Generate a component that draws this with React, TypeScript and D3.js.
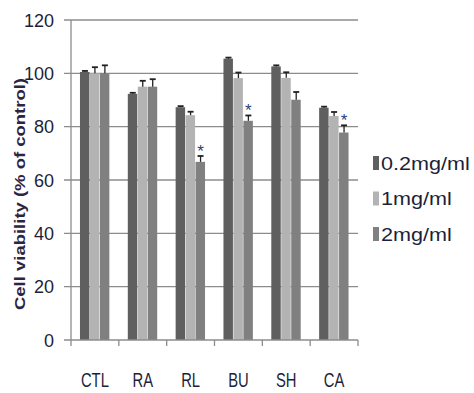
import { useEffect, useRef } from 'react';
import * as d3 from 'd3';

// 처리군 / 농도별 세포 생존율
const categories = ['CTL', 'RA', 'RL', 'BU', 'SH', 'CA'];
const seriesNames = ['0.2mg/ml', '1mg/ml', '2mg/ml'];
const dose02 = [100.5, 92.3, 87.3, 105.5, 102.6, 87.1];
const dose1 = [100.0, 95.0, 84.3, 98.2, 98.3, 84.0];
const dose2 = [100.0, 95.0, 66.8, 82.2, 90.1, 77.8];
const err02 = [0.4, 0.4, 0.4, 0.4, 0.4, 0.4];
const err1 = [2.3, 2.2, 1.3, 2.1, 2.1, 1.5];
const err2 = [3.0, 2.8, 2.2, 2.0, 2.9, 2.7];
const starred = ['RL', 'BU', 'CA'];
const yTicks = [0, 20, 40, 60, 80, 100, 120];

const colors = ['#5f5f5f', '#b3b3b3', '#808080'];
const textColor = '#1d1f3a';

export default function App() {
  const svgRef = useRef<SVGSVGElement>(null);

  useEffect(() => {
    if (!svgRef.current) return;
    const svg = d3.select(svgRef.current);
    svg.selectAll('*').remove();

    const values = [dose02, dose1, dose2];
    const errors = [err02, err1, err2];

    const x = d3.scaleBand().domain(categories).range([71, 358]);
    const xs = d3.scaleBand<number>().domain([0, 1, 2]).range([0, x.bandwidth()]).paddingOuter(0.9).paddingInner(0);
    const y = d3.scaleLinear().domain([0, 120]).range([340, 20]);

    // 그리드
    svg.append('g')
      .selectAll('line')
      .data(yTicks.filter((t) => t > 0))
      .join('line')
      .attr('x1', 64).attr('x2', 358)
      .attr('y1', (t) => y(t)).attr('y2', (t) => y(t))
      .attr('stroke', '#8c8c8c').attr('stroke-width', 1.3);

    // 막대
    values.forEach((vals, si) => {
      svg.append('g')
        .selectAll('rect')
        .data(categories)
        .join('rect')
        .attr('x', (c) => x(c)! + xs(si)!)
        .attr('y', (_c, i) => y(vals[i]))
        .attr('width', xs.bandwidth() - 0.5)
        .attr('height', (_c, i) => y(0) - y(vals[i]))
        .attr('fill', colors[si]);
    });

    // 오차막대
    values.forEach((vals, si) => {
      const g = svg.append('g').attr('stroke', '#222').attr('stroke-width', 1.3);
      categories.forEach((c, i) => {
        const cx = x(c)! + xs(si)! + xs.bandwidth() / 2;
        const top = y(vals[i] + errors[si][i]);
        g.append('line').attr('x1', cx).attr('x2', cx).attr('y1', y(vals[i])).attr('y2', top);
        g.append('line').attr('x1', cx - 3).attr('x2', cx + 3).attr('y1', top).attr('y2', top).attr('stroke-width', 1.8);
      });
    });

    // 유의성 표시
    svg.append('g')
      .selectAll('text')
      .data(starred)
      .join('text')
      .attr('x', (c) => x(c)! + xs(2)! + xs.bandwidth() / 2)
      .attr('y', (c) => {
        const i = categories.indexOf(c);
        return y(dose2[i] + err2[i]) + 1;
      })
      .attr('text-anchor', 'middle')
      .attr('font-size', 17)
      .attr('fill', '#2d3f7a')
      .text('*');

    // 축
    svg.append('line').attr('x1', 71).attr('x2', 71).attr('y1', y(120)).attr('y2', y(0))
      .attr('stroke', '#8c8c8c').attr('stroke-width', 1.3);
    svg.append('line').attr('x1', 64).attr('x2', 358).attr('y1', y(0)).attr('y2', y(0))
      .attr('stroke', '#8c8c8c').attr('stroke-width', 1.3);
    const bounds = [...categories.map((c) => x(c)!), 358];
    svg.append('g')
      .selectAll('line')
      .data(bounds)
      .join('line')
      .attr('x1', (b) => b).attr('x2', (b) => b)
      .attr('y1', y(0)).attr('y2', y(0) + 6)
      .attr('stroke', '#8c8c8c').attr('stroke-width', 1.3);

    // Y 눈금 레이블
    svg.append('g')
      .selectAll('text')
      .data(yTicks)
      .join('text')
      .attr('x', 54)
      .attr('y', (t) => y(t) + 6.5)
      .attr('text-anchor', 'end')
      .attr('font-size', 18)
      .attr('fill', textColor)
      .text((t) => t);

    // X 레이블 (좁은 글꼴 흉내)
    svg.append('g')
      .selectAll('text')
      .data(categories)
      .join('text')
      .attr('transform', (c) => `translate(${x(c)! + x.bandwidth() / 2},387) scale(0.74,1)`)
      .attr('text-anchor', 'middle')
      .attr('font-size', 20)
      .attr('fill', textColor)
      .text((c) => c);

    // Y축 제목
    svg.append('text')
      .attr('transform', 'translate(25,194) rotate(-90)')
      .attr('text-anchor', 'middle')
      .attr('font-size', 14)
      .attr('font-weight', 'bold')
      .attr('fill', '#2e2440')
      .attr('textLength', 232)
      .attr('lengthAdjust', 'spacingAndGlyphs')
      .text('Cell viability (% of control)');

    // 범례
    const legend = svg.append('g')
      .selectAll('g')
      .data(seriesNames)
      .join('g')
      .attr('transform', (_s, i) => `translate(373,${163 + i * 35.5})`);
    legend.append('rect')
      .attr('x', 0).attr('y', -7).attr('width', 6).attr('height', 14)
      .attr('fill', (_s, i) => colors[i]);
    legend.append('text')
      .attr('transform', 'translate(8,6.5) scale(1.2,1)')
      .attr('font-size', 18)
      .attr('fill', textColor)
      .text((s) => s);
  }, []);

  return (
    <div style={{ position: 'fixed', left: 0, top: 0, background: '#fff' }}>
      <svg ref={svgRef} width={474} height={393} style={{ display: 'block', fontFamily: '"Liberation Sans", Arial, sans-serif' }} />
    </div>
  );
}
